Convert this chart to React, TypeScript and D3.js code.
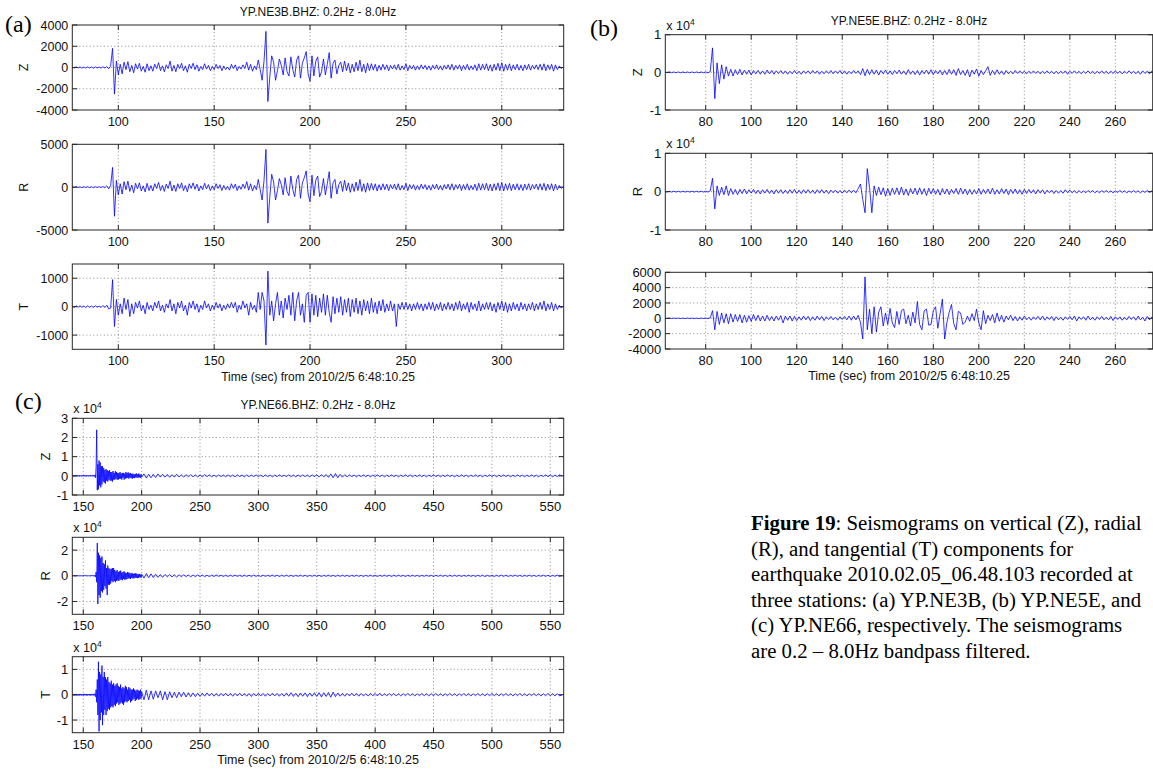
import React from "react";
import * as d3 from "d3";

// ---------- Station (a) YP.NE3B : samples every 1 s from t = 76 s ----------
const A_T0 = 76;
const A_DT = 1;
const aZ = [
  40,-50,60,-40,50,-60,40,-50,60,-40,50,-70,60,-50,40,-60,70,-50,80,-120,
  150,1800,-2500,
  600,-700,300,-600,500,-200,550,-400,200,-500,
  350,-150,400,-350,100,-450,350,-300,150,-350,
  300,-100,450,-300,150,-400,250,-100,600,-350,
  200,-400,300,-100,400,-300,150,-450,300,-100,
  400,-200,250,-350,100,-200,350,-150,200,-300,
  100,-200,300,-100,200,-300,150,-200,50,-250,
  300,-100,250,-300,100,-150,250,-100,500,-250,
  300,-350,150,-200,
  700,-200,-1200,600,3400,-3200,-900,1100,500,-1200,
  -300,800,200,-700,900,-400,-800,1000,-200,-900,
  700,1100,-1000,400,900,1500,-600,-1300,1100,-800,
  600,1000,-900,-400,800,-700,300,1400,-1000,400,
  700,-600,200,500,-400,600,-300,400,-500,300,
  -400,500,-300,700,-400,300,-500,400,-300,350,
  -250,300,-350,200,-250,300,-200,250,-300,200,
  -150,250,-200,300,-250,150,-200,350,-300,200,
  -150,200,-250,150,-200,250,-150,200,-200,150,
  -250,200,-150,250,-200,150,-250,200,-150,250,
  -200,300,-250,200,-150,250,-300,200,-200,300,
  -250,150,-200,250,-300,350,-250,300,-200,350,
  -300,250,-350,300,-250,400,-300,450,-350,300,
  -250,350,-300,250,-200,300,-250,200,-300,250,
  -200,300,-250,200,-150,250,-200,300,-250,350,
  -300,250,-200,300,-350,250,-200,150,-100,50,
];
const aR = [
  50,-40,60,-50,40,-60,50,-40,60,-50,40,-60,50,-40,60,-50,80,-60,150,-200,
  200,2300,-3400,
  800,-900,400,-800,650,-300,700,-500,250,-650,
  450,-200,500,-450,150,-550,450,-400,200,-450,
  400,-150,550,-400,200,-500,350,-150,700,-450,
  250,-500,400,-150,500,-400,200,-550,400,-150,
  500,-250,350,-450,150,-300,450,-200,300,-400,
  150,-300,400,-150,300,-400,200,-300,100,-350,
  400,-150,350,-400,150,-250,350,-150,650,-350,
  400,-450,200,-300,
  900,-300,-1500,800,4400,-4200,-1200,1500,600,-1500,
  -400,1000,300,-900,1100,-500,-1000,1300,-300,-1100,
  900,1400,-1300,500,1100,1900,-800,-1700,1400,-1000,
  800,1300,-1100,-500,1000,-900,400,1800,-1300,500,
  900,-800,300,700,-500,800,-400,500,-600,400,
  -500,600,-400,900,-500,400,-600,500,-400,450,
  -350,400,-450,300,-350,400,-300,350,-400,300,
  -200,350,-300,400,-350,200,-300,450,-400,300,
  -200,300,-350,200,-300,350,-200,300,-300,200,
  -350,300,-200,350,-300,200,-350,300,-200,350,
  -300,400,-350,300,-200,350,-400,300,-300,400,
  -350,200,-300,350,-400,450,-350,400,-300,450,
  -400,350,-450,400,-350,500,-400,550,-450,400,
  -350,450,-400,350,-300,400,-350,300,-400,350,
  -300,400,-350,300,-200,350,-300,400,-350,450,
  -400,350,-300,400,-450,350,-300,200,-150,50,
];
const aT = [
  20,-30,30,-20,30,-20,20,-30,30,-20,20,-30,30,-20,20,-30,40,-30,50,-80,
  -50,950,-700,
  250,-300,100,-250,300,-100,250,-350,100,-250,
  150,-50,200,-150,50,-250,150,-100,50,-150,
  150,-50,200,-150,50,-200,100,-50,250,-150,
  100,-250,150,-50,200,-150,50,-300,150,-50,
  200,-100,100,-200,50,-100,200,-50,100,-150,
  50,-100,150,-50,100,-150,50,-100,100,-50,
  150,-50,150,-200,50,-100,200,-50,100,-300,
  150,-100,50,-200,
  500,-100,500,200,-1350,1250,-300,200,-500,100,
  500,-300,200,-400,300,-100,400,-300,500,-500,
  200,500,-300,100,-550,400,500,-550,450,-300,
  400,-350,300,-200,450,-300,400,-200,-550,350,
  -250,300,-200,350,-300,250,-200,300,-350,250,
  -200,300,-250,200,-300,250,-150,200,-250,300,
  -200,150,-250,200,-150,250,-200,100,-150,200,
  -150,100,-700,100,-100,150,-100,150,-100,100,
  -150,100,-100,150,-100,100,-150,100,-100,150,
  -100,150,-150,100,-100,150,-150,100,-100,150,
  -100,100,-150,150,-100,200,-150,100,-100,150,
  -200,150,-100,100,-150,200,-150,100,-100,150,
  -100,150,-150,100,-200,150,-100,200,-150,150,
  -200,100,-150,150,-100,100,-150,150,-100,100,
  -150,100,-100,150,-150,100,-100,150,-100,200,
  -150,100,-100,150,-150,100,-100,50,-50,20,
];

// ---------- Station (b) YP.NE5E : samples every 1 s from t = 62 s ----------
const B_T0 = 62;
const B_DT = 1;
const bZ = [ // x 10^4
  0.01,-0.01,0.01,-0.01,0.01,-0.01,0.01,-0.01,0.01,-0.01,0.01,-0.01,0.01,-0.01,0.01,-0.01,0.01,-0.01,0.01,-0.01,0.02,
  0.65,-0.7,
  0.25,-0.3,0.2,-0.18,0.15,-0.1,0.08,-0.1,0.07,-0.06,
  0.08,-0.07,0.06,-0.05,0.06,-0.07,0.05,-0.04,0.05,-0.05,
  0.04,-0.05,0.06,-0.04,0.05,-0.05,0.04,-0.03,0.05,-0.04,
  0.04,-0.05,0.03,-0.04,0.05,-0.04,0.03,-0.05,0.04,-0.03,
  0.04,-0.04,0.05,-0.03,0.04,-0.05,0.03,-0.04,0.04,-0.03,
  0.05,-0.04,0.04,-0.03,0.05,-0.04,0.04,-0.05,0.03,-0.04,
  0.05,-0.03,0.04,-0.06,0.1,-0.09,0.08,-0.06,0.07,-0.05,
  0.06,-0.07,0.05,-0.04,0.06,-0.05,0.04,-0.06,0.05,-0.04,
  0.06,-0.05,0.04,-0.06,0.07,-0.05,0.04,-0.06,0.05,-0.07,
  0.05,-0.04,0.06,-0.05,0.07,-0.06,0.05,-0.04,0.06,-0.07,
  0.05,-0.06,0.08,-0.05,0.07,-0.08,0.1,-0.06,0.05,-0.08,
  0.07,-0.12,0.06,-0.05,0.09,-0.1,0.05,-0.06,0.04,0.15,
  -0.08,0.05,-0.06,0.07,-0.05,0.04,-0.06,0.05,-0.04,0.03,
  -0.04,0.05,-0.03,0.04,-0.03,0.03,-0.04,0.03,-0.03,0.04,
  -0.03,0.03,-0.04,0.03,-0.03,0.04,-0.03,0.03,-0.04,0.03,
  -0.04,0.03,-0.03,0.04,-0.05,0.03,-0.03,0.04,-0.03,0.03,
  -0.04,0.03,-0.03,0.04,-0.03,0.03,-0.04,0.03,-0.03,0.04,
  -0.03,0.03,-0.04,0.03,-0.03,0.04,-0.03,0.03,-0.04,0.03,
  -0.03,0.04,-0.03,0.03,-0.04,0.03,-0.05,0.04,-0.03,0.03,
  -0.04,0.03,-0.02,
];
const bR = [ // x 10^4
  0.01,-0.01,0.01,-0.01,0.01,-0.01,0.01,-0.01,0.01,-0.01,0.01,-0.01,0.01,-0.01,0.01,-0.01,0.01,-0.01,0.01,-0.01,0.02,
  0.35,-0.45,
  0.15,-0.1,0.12,-0.08,0.15,-0.1,0.08,-0.07,0.06,-0.08,
  0.06,-0.05,0.07,-0.06,0.05,-0.04,0.06,-0.05,0.04,-0.06,
  0.05,-0.04,0.06,-0.05,0.04,-0.06,0.05,-0.04,0.05,-0.05,
  0.04,-0.05,0.05,-0.04,0.06,-0.05,0.04,-0.05,0.05,-0.04,
  0.05,-0.04,0.04,-0.05,0.05,-0.04,0.05,-0.04,0.04,-0.05,
  0.04,-0.03,0.04,-0.04,0.03,-0.04,0.04,-0.03,0.04,-0.03,
  0.04,-0.03,0.08,0.2,-0.2,-0.55,0.6,0.1,-0.55,0.15,
  -0.1,0.12,-0.08,0.1,-0.12,0.08,-0.1,0.09,-0.07,0.1,
  -0.08,0.12,-0.09,0.07,-0.1,0.08,-0.06,0.09,-0.08,0.1,
  -0.07,0.08,-0.1,0.09,-0.06,0.08,-0.07,0.06,-0.09,0.08,
  -0.06,0.07,-0.08,0.06,-0.05,0.08,-0.07,0.09,-0.06,0.07,
  -0.08,0.06,-0.07,0.05,-0.06,0.08,-0.07,0.06,-0.05,0.07,
  -0.06,0.09,-0.07,0.05,-0.06,0.08,-0.05,0.07,-0.08,0.06,
  -0.05,0.07,-0.06,0.05,-0.07,0.06,-0.05,0.06,-0.04,0.05,
  -0.06,0.05,-0.04,0.05,-0.06,0.04,-0.03,0.04,-0.05,0.03,
  -0.04,0.03,-0.04,0.05,-0.03,0.04,-0.03,0.03,-0.04,0.03,
  -0.03,0.02,-0.03,0.03,-0.02,0.03,-0.03,0.02,-0.03,0.03,
  -0.02,0.03,-0.02,0.02,-0.03,0.02,-0.02,0.03,-0.02,0.02,
  -0.03,0.02,-0.02,0.03,-0.02,0.02,-0.03,0.02,-0.02,0.03,
  -0.02,0.02,-0.01,
];
const bT = [
  30,-30,20,-30,30,-20,30,-30,20,-30,30,-20,30,-30,20,-30,30,-20,30,-30,50,
  1000,-1500,
  900,-800,700,-600,600,-700,600,-500,500,-400,
  500,-600,400,-500,350,-400,500,-300,400,-350,
  300,-350,400,-300,250,-350,300,-250,350,-600,
  300,-250,300,-350,250,-300,200,-250,300,-200,
  250,-300,200,-250,300,-200,250,-300,200,-150,
  250,-200,150,-250,200,-150,250,-200,300,-250,
  300,-200,400,-500,-2700,5400,-1500,1200,-2000,1500,
  -1800,800,1500,-1000,700,-800,1300,-600,-1200,900,
  -800,1000,1200,-700,400,-1000,800,-600,2200,-800,
  -1500,1000,1200,-900,-800,1000,1500,-1300,600,2500,
  -2700,-500,800,1800,-700,-1500,900,700,-800,-500,
  300,-400,600,-300,1200,-600,-1500,1000,-700,400,
  -300,500,-600,700,-400,400,-500,300,-200,400,
  -300,250,-350,200,-250,300,-200,150,-250,200,
  -150,250,-200,300,-250,200,-150,250,-300,200,
  -200,150,-250,200,-150,250,-200,300,-350,200,
  -150,200,-250,300,-200,150,-250,200,-150,250,
  -200,150,-200,250,-300,200,-150,200,-250,150,
  -200,250,-150,200,-250,300,-200,150,-350,250,
  -200,150,-100,
];

// ---------- Station (c) YP.NE66 (x 10^4) ----------
// head: every 0.5 s from t = 141 s to 200 s; tail: every 2 s from t = 202 s
const C_HEAD_T0 = 141;
const C_HEAD_DT = 0.5;
const C_TAIL_T0 = 202;
const C_TAIL_DT = 2;
const cZHead = [
  0.02,-0.03,0.03,-0.02,0.03,-0.03,0.02,-0.02,0.03,-0.03,
  0.02,-0.03,0.03,-0.02,0.02,-0.03,0.03,-0.02,0.03,-0.02,
  0.03,-0.03,0.02,-0.03,0.03,-0.02,0.02,-0.03,0.03,-0.02,
  0.03,-0.02,0.02,-0.03,0.03,-0.02,0.03,-0.03,0.05,-0.1,
  0.5,2.4,-0.75,0.6,-0.7,0.8,-0.5,0.7,-0.6,0.5,
  -0.45,0.5,-0.3,0.4,-0.35,0.3,-0.4,0.35,-0.25,0.3,
  -0.3,0.25,-0.2,0.3,-0.25,0.2,-0.25,0.2,-0.3,0.25,
  -0.2,0.15,-0.2,0.25,-0.15,0.2,-0.2,0.15,-0.2,0.15,
  -0.15,0.2,-0.15,0.12,-0.2,0.15,-0.1,0.15,-0.2,0.12,
  -0.15,0.2,-0.12,0.15,-0.1,0.18,-0.15,0.12,-0.1,0.15,
  -0.12,0.1,-0.15,0.12,-0.1,0.08,-0.12,0.1,-0.08,0.12,
  -0.1,0.08,-0.1,0.12,-0.08,0.07,-0.1,0.08,-0.07,
];
const cZTail = [
  0.1,-0.12,0.08,-0.1,0.08,-0.09,0.1,-0.07,0.08,-0.07,
  0.07,-0.08,0.06,-0.07,0.08,-0.06,0.05,-0.07,0.06,-0.05,
  0.06,-0.05,0.05,-0.06,0.04,-0.05,0.06,-0.04,0.05,-0.05,
  0.04,-0.05,0.05,-0.04,0.04,-0.05,0.05,-0.04,0.04,-0.05,
  0.05,-0.04,0.04,-0.05,0.05,-0.04,0.04,-0.04,0.05,-0.04,
  0.04,-0.05,0.05,-0.04,0.04,-0.05,0.04,-0.04,0.05,-0.04,
  0.04,-0.04,0.05,-0.04,0.04,-0.05,0.04,-0.04,0.05,-0.04,
  0.04,-0.05,0.05,-0.04,0.05,-0.06,0.06,-0.05,0.07,-0.08,
  0.1,-0.1,0.12,-0.1,0.08,-0.07,0.06,-0.05,0.05,-0.04,
  0.04,-0.05,0.04,-0.04,0.05,-0.04,0.04,-0.05,0.04,-0.04,
  0.05,-0.04,0.04,-0.05,0.04,-0.04,0.05,-0.04,0.04,-0.05,
  0.04,-0.04,0.05,-0.04,0.05,-0.05,0.04,-0.04,0.05,-0.04,
  0.04,-0.05,0.04,-0.04,0.05,-0.04,0.04,-0.05,0.04,-0.04,
  0.05,-0.04,0.04,-0.05,0.04,-0.04,0.05,-0.04,0.04,-0.05,
  0.04,-0.04,0.05,-0.04,0.04,-0.05,0.04,-0.04,0.05,-0.04,
  0.04,-0.05,0.04,-0.04,0.05,-0.04,0.04,-0.05,0.04,-0.04,
  0.05,-0.04,0.04,-0.05,0.04,-0.04,0.05,-0.04,0.04,-0.05,
  0.04,-0.04,0.05,-0.04,0.04,-0.05,0.04,-0.04,0.05,-0.02,
];
const cRHead = [
  0.03,-0.02,0.03,-0.03,0.02,-0.03,0.03,-0.02,0.03,-0.03,
  0.02,-0.03,0.02,-0.02,0.03,-0.03,0.02,-0.03,0.03,-0.02,
  0.03,-0.02,0.03,-0.03,0.02,-0.02,0.03,-0.03,0.02,-0.03,
  0.02,-0.03,0.03,-0.02,0.03,-0.03,0.02,-0.03,0.05,-0.1,
  0.3,-0.5,2.55,-2.2,1.8,-1.5,1.6,-1.7,1.4,-1.2,
  1.5,-1.3,1.0,-1.1,0.9,-0.8,1.2,-1.0,0.6,-1.5,
  0.8,-0.7,0.6,-0.7,0.5,-0.6,0.55,-0.4,0.6,-0.5,
  0.6,-0.4,0.45,-0.5,0.35,-0.4,0.45,-0.35,0.3,-0.4,
  0.35,-0.3,0.4,-0.3,0.25,-0.35,0.3,-0.25,0.35,-0.3,
  0.25,-0.3,0.2,-0.25,0.3,-0.2,0.25,-0.2,0.2,-0.25,
  0.2,-0.15,0.2,-0.2,0.15,-0.2,0.18,-0.15,0.2,-0.15,
  0.15,-0.18,0.12,-0.15,0.15,-0.12,0.1,-0.15,0.12,
];
const cRTail = [
  -0.18,0.18,-0.15,0.15,-0.14,0.12,-0.12,0.1,-0.12,0.1,
  -0.08,0.1,-0.09,0.08,-0.1,0.08,-0.07,0.08,-0.06,0.07,
  -0.08,0.06,-0.06,0.07,-0.05,0.06,-0.06,0.05,-0.06,0.05,
  -0.05,0.06,-0.04,0.05,-0.05,0.04,-0.05,0.05,-0.04,0.05,
  -0.04,0.04,-0.05,0.05,-0.04,0.04,-0.04,0.05,-0.04,0.04,
  -0.05,0.05,-0.04,0.04,-0.04,0.05,-0.04,0.04,-0.05,0.04,
  -0.04,0.05,-0.04,0.04,-0.05,0.04,-0.04,0.05,-0.04,0.04,
  -0.05,0.04,-0.04,0.05,-0.04,0.04,-0.05,0.04,-0.04,0.05,
  -0.04,0.04,-0.05,0.04,-0.04,0.05,-0.04,0.04,-0.05,0.04,
  -0.04,0.05,-0.04,0.04,-0.05,0.04,-0.04,0.05,-0.04,0.04,
  -0.05,0.04,-0.04,0.05,-0.04,0.04,-0.05,0.04,-0.04,0.05,
  -0.04,0.04,-0.05,0.04,-0.04,0.05,-0.04,0.04,-0.05,0.04,
  -0.04,0.05,-0.04,0.04,-0.05,0.04,-0.04,0.05,-0.04,0.04,
  -0.05,0.04,-0.04,0.05,-0.04,0.04,-0.05,0.04,-0.04,0.05,
  -0.04,0.04,-0.05,0.04,-0.04,0.05,-0.06,0.04,-0.04,0.04,
  -0.05,0.04,-0.04,0.05,-0.04,0.04,-0.05,0.04,-0.04,0.05,
  -0.04,0.04,-0.05,0.04,-0.04,0.05,-0.04,0.04,-0.05,0.04,
  -0.04,0.05,-0.04,0.04,-0.05,0.04,-0.04,0.05,-0.04,0.02,
];
const cTHead = [
  0.03,-0.03,0.02,-0.03,0.03,-0.02,0.03,-0.03,0.02,-0.03,
  0.02,-0.03,0.03,-0.02,0.03,-0.03,0.02,-0.02,0.03,-0.03,
  0.03,-0.02,0.02,-0.03,0.03,-0.03,0.02,-0.02,0.03,-0.03,
  0.02,-0.03,0.03,-0.02,0.02,-0.03,0.03,-0.02,0.04,-0.08,
  0.2,-0.3,0.6,-0.8,1.3,-1.45,0.9,-1.0,0.8,-0.7,
  1.15,-1.2,0.7,-0.8,0.9,-0.6,0.7,-0.8,0.6,-0.65,
  0.7,-0.55,0.5,-0.6,0.45,-0.5,0.55,-0.45,0.4,-0.5,
  0.45,-0.4,0.35,-0.45,0.4,-0.35,0.45,-0.3,0.35,-0.4,
  0.3,-0.35,0.4,-0.3,0.25,-0.35,0.3,-0.4,0.25,-0.3,
  0.35,-0.25,0.3,-0.3,0.2,-0.25,0.3,-0.2,0.25,-0.3,
  0.2,-0.25,0.2,-0.2,0.25,-0.15,0.2,-0.25,0.15,-0.2,
  0.2,-0.15,0.18,-0.2,0.15,-0.18,0.2,-0.15,0.12,
];
const cTTail = [
  -0.2,0.18,-0.2,0.15,-0.18,0.15,-0.12,0.15,-0.2,0.12,
  -0.2,0.12,-0.12,0.1,-0.12,0.1,-0.08,0.1,-0.09,0.08,
  -0.08,0.07,-0.08,0.06,-0.07,0.06,-0.06,0.07,-0.05,0.06,
  -0.06,0.05,-0.06,0.05,-0.05,0.06,-0.05,0.05,-0.06,0.05,
  -0.05,0.06,-0.05,0.05,-0.06,0.05,-0.07,0.05,-0.05,0.06,
  -0.05,0.05,-0.06,0.05,-0.05,0.06,-0.05,0.05,-0.06,0.05,
  -0.06,0.07,-0.06,0.08,-0.07,0.06,-0.08,0.07,-0.06,0.07,
  -0.08,0.07,-0.06,0.08,-0.07,0.08,-0.09,0.08,-0.07,0.09,
  -0.1,0.1,-0.08,0.07,-0.06,0.05,-0.06,0.05,-0.05,0.06,
  -0.05,0.05,-0.06,0.05,-0.05,0.04,-0.05,0.05,-0.04,0.05,
  -0.05,0.06,-0.05,0.04,-0.05,0.05,-0.04,0.05,-0.05,0.04,
  -0.05,0.04,-0.04,0.05,-0.04,0.04,-0.05,0.04,-0.04,0.05,
  -0.04,0.04,-0.05,0.04,-0.04,0.05,-0.04,0.04,-0.05,0.04,
  -0.04,0.05,-0.04,0.04,-0.05,0.04,-0.04,0.05,-0.04,0.04,
  -0.05,0.04,-0.04,0.05,-0.04,0.04,-0.05,0.04,-0.04,0.05,
  -0.04,0.04,-0.05,0.04,-0.04,0.05,-0.04,0.04,-0.05,0.04,
  -0.04,0.05,-0.04,0.04,-0.05,0.04,-0.04,0.05,-0.04,0.04,
  -0.05,0.04,-0.04,0.05,-0.04,0.04,-0.05,0.04,-0.04,-0.02,
];

// ---------- Axis ticks ----------
const aXTicks = [100, 150, 200, 250, 300];
const bXTicks = [80, 100, 120, 140, 160, 180, 200, 220, 240, 260];
const cXTicks = [150, 200, 250, 300, 350, 400, 450, 500, 550];
const aZTicks = [-4000, -2000, 0, 2000, 4000];
const aRTicks = [-5000, 0, 5000];
const aTTicks = [-1000, 0, 1000];
const bZTicks = [-1, 0, 1];
const bRTicks = [-1, 0, 1];
const bTTicks = [-4000, -2000, 0, 2000, 4000, 6000];
const cZTicks = [-1, 0, 1, 2, 3];
const cRTicks = [-2, 0, 2];
const cTTicks = [-1, 0, 1];

const titleA = "YP.NE3B.BHZ: 0.2Hz - 8.0Hz";
const titleB = "YP.NE5E.BHZ: 0.2Hz - 8.0Hz";
const titleC = "YP.NE66.BHZ: 0.2Hz - 8.0Hz";
const xLabelText = "Time (sec) from 2010/2/5 6:48:10.25";

const captionLines = [
  ["Figure 19", ": Seismograms on vertical (Z), radial"],
  ["", "(R), and tangential (T) components for"],
  ["", "earthquake 2010.02.05_06.48.103 recorded at"],
  ["", "three stations: (a) YP.NE3B, (b) YP.NE5E, and"],
  ["", "(c) YP.NE66, respectively. The seismograms"],
  ["", "are 0.2 \u2013 8.0Hz bandpass filtered."],
];

const SANS = "'Liberation Sans', Arial, Helvetica, sans-serif";
const SERIF = "'Liberation Serif', 'Times New Roman', serif";

type Segment = { t0: number; dt: number; values: number[] };
type TraceProps = {
  id: string;
  left: number; right: number; top: number; bottom: number;
  xDomain: [number, number]; yDomain: [number, number];
  xTicks: number[]; yTicks: number[];
  segments: Segment[];
  comp: string; yLabelX: number; mult?: boolean; fs: number;
};

function Trace(p: TraceProps) {
  const x = d3.scaleLinear().domain(p.xDomain).range([p.left, p.right]);
  const y = d3.scaleLinear().domain(p.yDomain).range([p.bottom, p.top]);
  const pts: [number, number][] = [];
  p.segments.forEach((s) => s.values.forEach((v, i) => pts.push([s.t0 + i * s.dt, v])));
  const d = d3.line<[number, number]>().x((q) => x(q[0])).y((q) => y(q[1]))(pts) || "";
  const tl = 5;
  const axisColor = "#262626";
  const gridColor = "#6e6e6e";
  const innerY = p.yTicks.filter((v) => v > p.yDomain[0] && v < p.yDomain[1]);
  return (
    <g>
      <clipPath id={p.id}>
        <rect x={p.left} y={p.top} width={p.right - p.left} height={p.bottom - p.top} />
      </clipPath>
      {p.xTicks.map((t) => (
        <line key={"gx" + t} x1={x(t)} x2={x(t)} y1={p.top} y2={p.bottom} stroke={gridColor} strokeWidth={0.8} strokeDasharray="1,2.5" />
      ))}
      {innerY.map((v) => (
        <line key={"gy" + v} x1={p.left} x2={p.right} y1={y(v)} y2={y(v)} stroke={gridColor} strokeWidth={0.8} strokeDasharray="1,2.5" />
      ))}
      <path d={d} fill="none" stroke="#0000ff" strokeWidth={0.8} strokeLinejoin="round" clipPath={`url(#${p.id})`} />
      <rect x={p.left} y={p.top} width={p.right - p.left} height={p.bottom - p.top} fill="none" stroke={axisColor} strokeWidth={1} />
      {p.xTicks.map((t) => (
        <g key={"xt" + t}>
          <line x1={x(t)} x2={x(t)} y1={p.bottom} y2={p.bottom - tl} stroke={axisColor} />
          <line x1={x(t)} x2={x(t)} y1={p.top} y2={p.top + tl} stroke={axisColor} />
          <text x={x(t)} y={p.bottom + 16} textAnchor="middle" fontSize={p.fs} fontFamily={SANS} fill="#111">{t}</text>
        </g>
      ))}
      {p.yTicks.map((v) => (
        <g key={"yt" + v}>
          <line x1={p.left} x2={p.left + tl} y1={y(v)} y2={y(v)} stroke={axisColor} />
          <line x1={p.right} x2={p.right - tl} y1={y(v)} y2={y(v)} stroke={axisColor} />
          <text x={p.left - 4} y={y(v)} dy="0.36em" textAnchor="end" fontSize={p.fs} fontFamily={SANS} fill="#111">{String(v)}</text>
        </g>
      ))}
      <text transform={`translate(${p.yLabelX},${(p.top + p.bottom) / 2}) rotate(-90)`} textAnchor="middle" dy="0.36em" fontSize={p.fs} fontFamily={SANS} fill="#111">{p.comp}</text>
      {p.mult && (
        <text x={p.left + 1} y={p.top - 5} fontSize={p.fs - 0.5} fontFamily={SANS} fill="#111">
          x 10<tspan dy={-5} fontSize={p.fs - 4.5}>4</tspan>
        </text>
      )}
    </g>
  );
}

export default function App() {
  const aL = 72.3, aRt = 563.7;
  const bL = 665.3, bRt = 1152.7;
  const aDom: [number, number] = [76, 332.3];
  const bDom: [number, number] = [62.25, 276.4];
  const cDom: [number, number] = [140.6, 561.5];
  const aMid = (aL + aRt) / 2;
  const bMid = (bL + bRt) / 2;
  const seg = (t0: number, dt: number, values: number[]): Segment => ({ t0, dt, values });
  return (
    <svg width={1153} height={769} style={{ position: "absolute", left: 0, top: 0, background: "#fff" }}>
      <rect x={0} y={0} width={1153} height={769} fill="#fff" />
      {/* (a) */}
      <text x={5} y={32} fontSize={24} fontFamily={SERIF} fill="#000">(a)</text>
      <text x={aMid} y={16} textAnchor="middle" fontSize={12} fontFamily={SANS} fill="#111">{titleA}</text>
      <Trace id="aZ" left={aL} right={aRt} top={25} bottom={110} xDomain={aDom} yDomain={[-4000, 4000]} xTicks={aXTicks} yTicks={aZTicks} segments={[seg(A_T0, A_DT, aZ)]} comp="Z" yLabelX={23} fs={12.5} />
      <Trace id="aR" left={aL} right={aRt} top={144.3} bottom={230} xDomain={aDom} yDomain={[-5000, 5000]} xTicks={aXTicks} yTicks={aRTicks} segments={[seg(A_T0, A_DT, aR)]} comp="R" yLabelX={23} fs={12.5} />
      <Trace id="aT" left={aL} right={aRt} top={264} bottom={349.3} xDomain={aDom} yDomain={[-1500, 1500]} xTicks={aXTicks} yTicks={aTTicks} segments={[seg(A_T0, A_DT, aT)]} comp="T" yLabelX={23} fs={12.5} />
      <text x={aMid} y={381} textAnchor="middle" fontSize={12} fontFamily={SANS} fill="#111">{xLabelText}</text>

      {/* (b) */}
      <text x={590} y={36} fontSize={24} fontFamily={SERIF} fill="#000">(b)</text>
      <text x={bMid} y={24.5} textAnchor="middle" fontSize={12} fontFamily={SANS} fill="#111">{titleB}</text>
      <Trace id="bZ" left={bL} right={bRt} top={34.7} bottom={110} xDomain={bDom} yDomain={[-1, 1]} xTicks={bXTicks} yTicks={bZTicks} segments={[seg(B_T0, B_DT, bZ)]} comp="Z" yLabelX={637} mult fs={13} />
      <Trace id="bR" left={bL} right={bRt} top={153.3} bottom={230} xDomain={bDom} yDomain={[-1, 1]} xTicks={bXTicks} yTicks={bRTicks} segments={[seg(B_T0, B_DT, bR)]} comp="R" yLabelX={637} mult fs={13} />
      <Trace id="bT" left={bL} right={bRt} top={272.3} bottom={349} xDomain={bDom} yDomain={[-4000, 6000]} xTicks={bXTicks} yTicks={bTTicks} segments={[seg(B_T0, B_DT, bT)]} comp="" yLabelX={637} fs={13} />
      <text x={bMid} y={379.5} textAnchor="middle" fontSize={12.5} fontFamily={SANS} fill="#111">{xLabelText}</text>

      {/* (c) */}
      <text x={15} y={409} fontSize={24} fontFamily={SERIF} fill="#000">(c)</text>
      <text x={aMid} y={408.5} textAnchor="middle" fontSize={12} fontFamily={SANS} fill="#111">{titleC}</text>
      <Trace id="cZ" left={aL} right={aRt} top={418.3} bottom={495} xDomain={cDom} yDomain={[-1, 3]} xTicks={cXTicks} yTicks={cZTicks} segments={[seg(C_HEAD_T0, C_HEAD_DT, cZHead), seg(C_TAIL_T0, C_TAIL_DT, cZTail)]} comp="Z" yLabelX={45} mult fs={13} />
      <Trace id="cR" left={aL} right={aRt} top={537.3} bottom={614.3} xDomain={cDom} yDomain={[-3, 3]} xTicks={cXTicks} yTicks={cRTicks} segments={[seg(C_HEAD_T0, C_HEAD_DT, cRHead), seg(C_TAIL_T0, C_TAIL_DT, cRTail)]} comp="R" yLabelX={45} mult fs={13} />
      <Trace id="cT" left={aL} right={aRt} top={656.7} bottom={732.7} xDomain={cDom} yDomain={[-1.5, 1.5]} xTicks={cXTicks} yTicks={cTTicks} segments={[seg(C_HEAD_T0, C_HEAD_DT, cTHead), seg(C_TAIL_T0, C_TAIL_DT, cTTail)]} comp="T" yLabelX={45} mult fs={13} />
      <text x={aMid} y={763.5} textAnchor="middle" fontSize={12.5} fontFamily={SANS} fill="#111">{xLabelText}</text>

      {/* caption */}
      {captionLines.map((ln, i) => (
        <text key={"cap" + i} x={751} y={530 + i * 25.6} fontSize={20.8} fontFamily={SERIF} fill="#000">
          {ln[0] && <tspan fontWeight="bold">{ln[0]}</tspan>}
          <tspan>{ln[1]}</tspan>
        </text>
      ))}
    </svg>
  );
}
